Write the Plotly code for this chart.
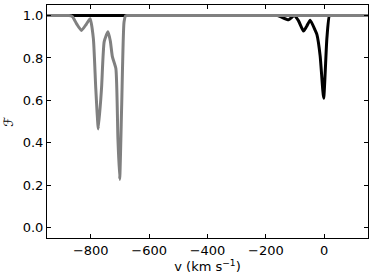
import plotly.graph_objects as go

# Gray absorption profile (velocity in km/s, normalized flux)
v_gray = [-950, -890, -875, -863, -848, -832, -815, -802, -791, -783, -774, -763, -754,
          -741, -733, -726, -714, -707, -701, -694, -686, -680, -670, 150]
f_gray = [1.0, 1.0, 1.0, 0.995, 0.96, 0.93, 0.96, 0.985, 0.89, 0.66, 0.465, 0.66, 0.877,
          0.924, 0.88, 0.806, 0.75, 0.42, 0.226, 0.58, 0.97, 1.0, 1.0, 1.0]

# Black absorption profile
v_black = [-950, -175, -160, -150, -122, -103, -88, -71, -60, -48, -31, -25, -14, -2,
           9, 18, 28, 150]
f_black = [1.0, 1.0, 1.0, 0.995, 0.98, 1.0, 0.975, 0.927, 0.95, 0.978, 0.93, 0.91,
           0.81, 0.61, 0.89, 1.0, 1.0, 1.0]

x_ticks = [-800, -600, -400, -200, 0]
x_labels = ["\u2212800", "\u2212600", "\u2212400", "\u2212200", "0"]
y_ticks = [0.0, 0.2, 0.4, 0.6, 0.8, 1.0]
y_labels = ["0.0", "0.2", "0.4", "0.6", "0.8", "1.0"]

fig = go.Figure()
fig.add_trace(go.Scatter(x=v_black, y=f_black, mode="lines",
                         line=dict(color="black", width=3, shape="spline", smoothing=0.5),
                         hoverinfo="skip"))
fig.add_trace(go.Scatter(x=v_gray, y=f_gray, mode="lines",
                         line=dict(color="#808080", width=3, shape="spline", smoothing=0.5),
                         hoverinfo="skip"))

axis_common = dict(showgrid=False, zeroline=False, showline=True, linecolor="black",
                   linewidth=1, mirror="ticks", ticks="inside", ticklen=4,
                   tickcolor="black", tickwidth=1)

fig.update_layout(
    width=374, height=278,
    margin=dict(l=47, r=6, t=5, b=40),
    paper_bgcolor="white", plot_bgcolor="white",
    showlegend=False,
    font=dict(family="DejaVu Sans", size=13, color="black"),
    xaxis=dict(range=[-950, 150], tickvals=x_ticks, ticktext=x_labels,
               title=dict(text="v (km s<sup>\u22121</sup>)", standoff=4,
                          font=dict(size=13)),
               **axis_common),
    yaxis=dict(range=[-0.05, 1.05], tickvals=y_ticks, ticktext=y_labels,
               title=dict(text="\u2131", standoff=6, font=dict(size=13)),
               **axis_common),
)

fig.write_html("out.html", config={"displayModeBar": False},
               post_script="document.body.style.margin='0';")
